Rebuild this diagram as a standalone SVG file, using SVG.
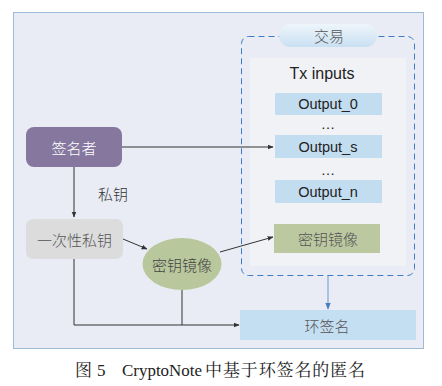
<svg xmlns="http://www.w3.org/2000/svg" width="442" height="386" viewBox="0 0 442 386">
<defs>
<linearGradient id="pill" x1="0" y1="0" x2="0" y2="1">
<stop offset="0" stop-color="#EEF5FB"/>
<stop offset="1" stop-color="#C9E0F2"/>
</linearGradient>
<marker id="arr" viewBox="0 0 10 10" refX="9" refY="5" markerWidth="6" markerHeight="6" orient="auto">
<path d="M0,1 L10,5 L0,9 z" fill="#333"/>
</marker>
<marker id="arrb" viewBox="0 0 10 10" refX="9" refY="5" markerWidth="6" markerHeight="6" orient="auto">
<path d="M0,1 L10,5 L0,9 z" fill="#4A80C0"/>
</marker>
</defs>
<style>
.cn{font-family:"Noto Sans CJK SC","Liberation Sans",sans-serif;font-size:15px;font-weight:300;text-anchor:middle;dominant-baseline:central}
.en{font-family:"Liberation Sans",Arial,sans-serif;font-size:14.5px;text-anchor:middle;dominant-baseline:central;fill:#222}
.out{fill:#C3DDF0}
.ln{fill:none;stroke:#333;stroke-width:1}
</style>
<rect width="442" height="386" fill="#fff"/>
<rect x="13.5" y="12.5" width="410" height="336" fill="#E9ECF4" stroke="#9DBBD6"/>
<g id="tx">
<rect x="241.5" y="36.5" width="173" height="239" rx="7" fill="none" stroke="#3E7BC4" stroke-dasharray="6,4"/>
<rect x="250" y="58" width="156" height="208" fill="#F1F2F6"/>
<rect x="279" y="24" width="98" height="23" rx="11.5" fill="url(#pill)"/>
<text class="cn" x="329" y="35" fill="#555">交易</text>
<text class="en" x="322" y="73" style="font-size:16px">Tx inputs</text>
</g>
<g id="out0"><rect class="out" x="275" y="93" width="107" height="22"/><text class="en" x="328" y="104">Output_0</text></g>
<text class="en" x="328" y="124">…</text>
<g id="outs"><rect class="out" x="275" y="135" width="107" height="23"/><text class="en" x="328" y="146.5">Output_s</text></g>
<text class="en" x="328" y="170">…</text>
<g id="outn"><rect class="out" x="275" y="180" width="107" height="23"/><text class="en" x="328" y="191.5">Output_n</text></g>
<g id="keyimg-tx"><rect x="274" y="224" width="106" height="29" fill="#BCC8A0"/><text class="cn" x="328" y="238.5" fill="#555">密钥镜像</text></g>
<g id="signer"><rect x="26" y="127" width="96" height="40" rx="8" fill="#85779E"/><text class="cn" x="74" y="147" fill="#fff">签名者</text></g>
<g id="otk"><rect x="26" y="219" width="97" height="40" rx="7" fill="#DCDCDD"/><text class="cn" x="74.5" y="239" fill="#555">一次性私钥</text></g>
<g id="keyimg"><ellipse cx="182" cy="264" rx="39.5" ry="26" fill="#B9C79C"/><text class="cn" x="182" y="264" fill="#444">密钥镜像</text></g>
<g id="ring"><rect x="240" y="310" width="176" height="30" fill="#C5DFF2"/><text class="cn" x="327" y="325" fill="#555">环签名</text></g>
<text class="cn" x="113" y="193" fill="#333">私钥</text>
<g id="connectors">
<path class="ln" d="M122,147 H273" marker-end="url(#arr)"/>
<path class="ln" d="M74,167 V217" marker-end="url(#arr)"/>
<path class="ln" d="M123,239 L147,249" marker-end="url(#arr)"/>
<path class="ln" d="M220,252 L273,237" marker-end="url(#arr)"/>
<path class="ln" d="M74,259 V325 H239" marker-end="url(#arr)"/>
<path class="ln" d="M182,290 V325"/>
<path d="M328,276 V309" fill="none" stroke="#7FA6D3" stroke-width="1.2" marker-end="url(#arrb)"/>
</g>
<text y="376" font-family="'Liberation Serif','Noto Serif CJK SC','Noto Sans CJK SC',serif" font-size="17" fill="#222"><tspan x="75">图</tspan><tspan x="97">5</tspan><tspan x="122" textLength="80" lengthAdjust="spacingAndGlyphs">CryptoNote</tspan><tspan x="205" textLength="160">中基于环签名的匿名</tspan></text>
</svg>
